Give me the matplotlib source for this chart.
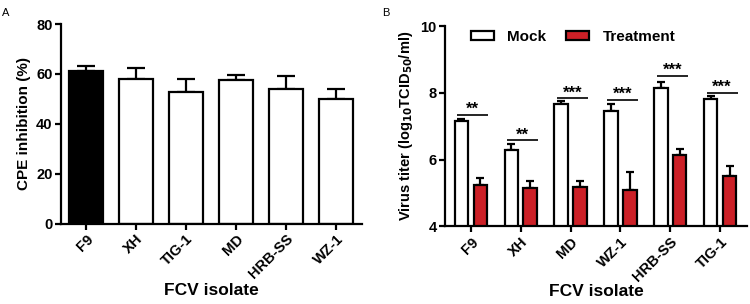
import matplotlib
matplotlib.use("Agg")
import matplotlib.pyplot as plt
from matplotlib.patches import Patch
import numpy as np

plt.rcParams['font.family'] = ['Liberation Sans', 'DejaVu Sans']
plt.rcParams['font.weight'] = 'bold'

# Panel A: CPE inhibition
isolates_a = ['F9', 'XH', 'TIG-1', 'MD', 'HRB-SS', 'WZ-1']
inhibition = [61.3, 57.8, 52.9, 57.5, 54.0, 49.9]
inhibition_err = [1.7, 4.6, 4.9, 1.9, 5.2, 4.0]

# Panel B: virus titer
isolates_b = ['F9', 'XH', 'MD', 'WZ-1', 'HRB-SS', 'TIG-1']
mock = [7.15, 6.28, 7.68, 7.45, 8.15, 7.82]
mock_err = [0.07, 0.20, 0.08, 0.23, 0.18, 0.10]
treat = [5.25, 5.15, 5.18, 5.08, 6.15, 5.50]
treat_err = [0.20, 0.20, 0.19, 0.54, 0.18, 0.30]
sig_labels = ['**', '**', '***', '***', '***', '***']
sig_heights = [7.35, 6.58, 7.85, 7.80, 8.51, 8.01]

red = '#CC2027'
lw = 1.6

fig = plt.figure(figsize=(7.5, 3.04), dpi=100)
ax1 = fig.add_axes([0.0813, 0.2648, 0.4013, 0.656])
ax2 = fig.add_axes([0.5933, 0.255, 0.4027, 0.659])


def style(ax):
    for side in ['top', 'right']:
        ax.spines[side].set_visible(False)
    for side in ['left', 'bottom']:
        ax.spines[side].set_linewidth(lw)
    ax.tick_params(direction='out', length=4, width=lw, labelsize=10.5, pad=2)
    for lab in ax.get_yticklabels() + ax.get_xticklabels():
        lab.set_fontweight('bold')


# --- A ---
x = np.arange(len(isolates_a))
colors_a = ['black'] + ['white'] * 5
ax1.bar(x, inhibition, width=0.68, color=colors_a, edgecolor='black',
        linewidth=lw, zorder=2)
ax1.errorbar(x, inhibition, yerr=[np.zeros(6), inhibition_err], fmt='none',
             ecolor='black', elinewidth=lw, capsize=6.5, capthick=lw, zorder=1)
ax1.set_xlim(-0.5, 5.52)
ax1.set_ylim(0, 80)
ax1.set_yticks([0, 20, 40, 60, 80])
ax1.set_xticks(x)
ax1.set_xticklabels(isolates_a, rotation=45, ha='right', rotation_mode='anchor')
ax1.set_ylabel('CPE inhibition (%)', fontsize=11, fontweight='bold', labelpad=4)
ax1.set_xlabel('FCV isolate', fontsize=12.5, fontweight='bold')
ax1.xaxis.set_label_coords(0.5, -0.30)
style(ax1)

# --- B ---
xb = np.arange(len(isolates_b))
off = 0.19
w = 0.27
ax2.bar(xb - off, mock, width=w, color='white', edgecolor='black',
        linewidth=lw, zorder=2, label='Mock')
ax2.bar(xb + off, treat, width=w, color=red, edgecolor='black',
        linewidth=lw, zorder=2, label='Treatment')
ax2.errorbar(xb - off, mock, yerr=[np.zeros(6), mock_err], fmt='none',
             ecolor='black', elinewidth=lw, capsize=3, capthick=lw, zorder=1)
ax2.errorbar(xb + off, treat, yerr=[np.zeros(6), treat_err], fmt='none',
             ecolor='black', elinewidth=lw, capsize=3, capthick=lw, zorder=1)
for xi, lab, h in zip(xb, sig_labels, sig_heights):
    ax2.plot([xi - 0.27, xi + 0.35], [h, h], color='black', lw=1.2,
             solid_capstyle='butt')
    ax2.text(xi + 0.04, h - 0.07, lab, ha='center', va='bottom',
             fontsize=12, fontweight='bold')
ax2.set_xlim(-0.52, 5.54)
ax2.set_ylim(4, 10)
ax2.set_yticks([4, 6, 8, 10])
ax2.set_xticks(xb)
ax2.set_xticklabels(isolates_b, rotation=45, ha='right', rotation_mode='anchor')
ax2.set_ylabel(r'Virus titer (log$_{\mathbf{10}}$TCID$_{\mathbf{50}}$/ml)',
               fontsize=10.5, fontweight='bold', labelpad=4)
ax2.set_xlabel('FCV isolate', fontsize=12.5, fontweight='bold')
ax2.xaxis.set_label_coords(0.5, -0.285)
handles = [Patch(facecolor='white', edgecolor='black', linewidth=lw),
           Patch(facecolor=red, edgecolor='black', linewidth=lw)]
ax2.legend(handles, ['Mock', 'Treatment'], ncol=2, frameon=False,
           loc='upper left', bbox_to_anchor=(0.04, 1.05),
           prop={'weight': 'bold', 'size': 11}, handlelength=1.5,
           handleheight=0.55, columnspacing=1.3, handletextpad=0.9)
style(ax2)

fig.text(0.003, 0.975, 'A', fontsize=8, fontweight='normal', va='top')
fig.text(0.509, 0.975, 'B', fontsize=8, fontweight='normal', va='top')

fig.savefig('out.png', dpi=100)
